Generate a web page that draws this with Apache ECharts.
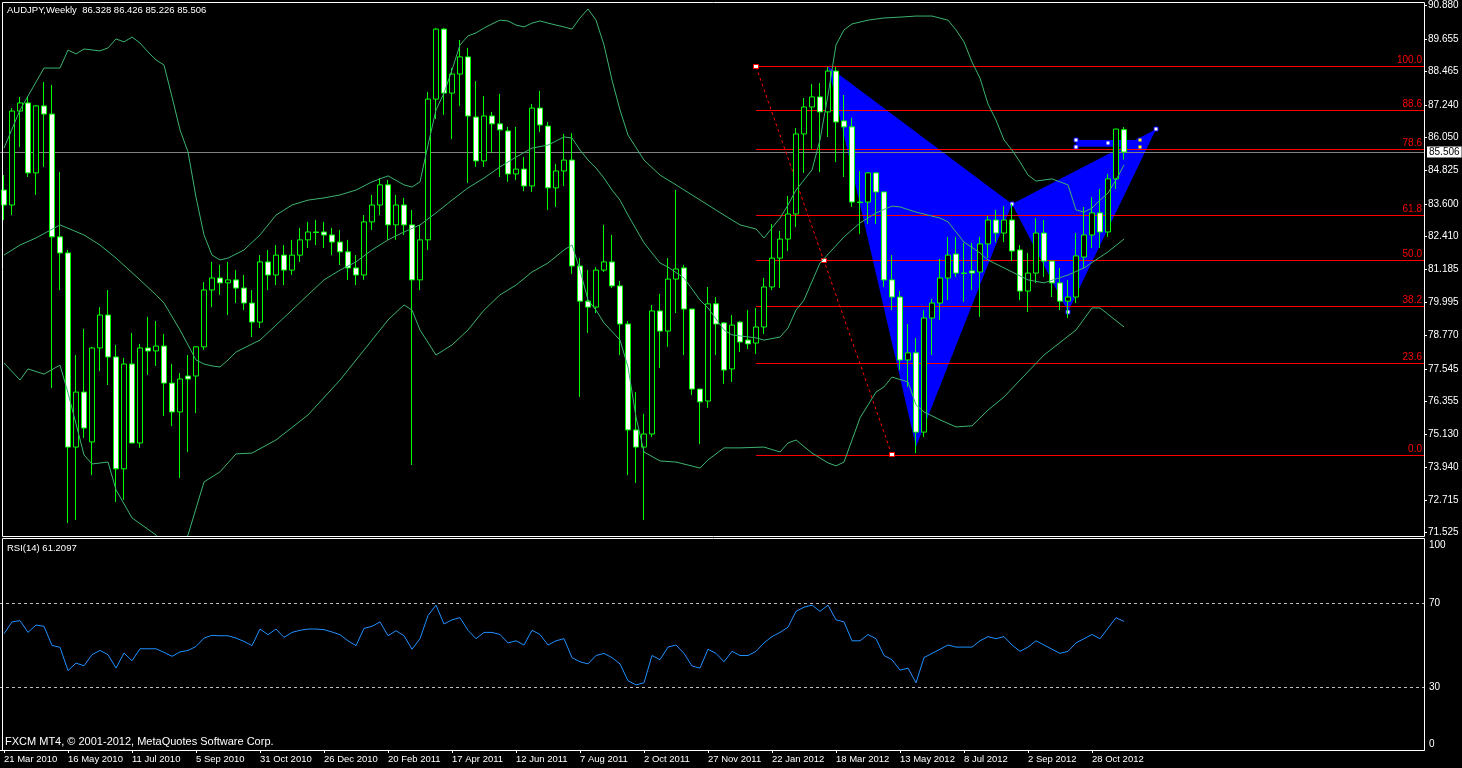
<!DOCTYPE html>
<html><head><meta charset="utf-8">
<script src="https://cdn.jsdelivr.net/npm/echarts@6/dist/echarts.min.js"></script>
<style>html,body{margin:0;padding:0;background:#000;}#c{width:1462px;height:768px;}</style>
</head><body><div id="c"></div>
<script>
// ---- tick labels ----
const xTickLabels = ['21 Mar 2010','16 May 2010','11 Jul 2010','5 Sep 2010','31 Oct 2010','26 Dec 2010','20 Feb 2011','17 Apr 2011','12 Jun 2011','7 Aug 2011','2 Oct 2011','27 Nov 2011','22 Jan 2012','18 Mar 2012','13 May 2012','8 Jul 2012','2 Sep 2012','28 Oct 2012'];
const slotCount = 178; // weekly slots visible on the chart (bars + empty right margin)
const priceTicks = [90.880, 89.655, 88.465, 87.240, 86.050, 84.825, 83.600, 82.410, 81.185, 79.995, 78.770, 77.545, 76.355, 75.130, 73.940, 72.715, 71.525];
const rsiTicks = [0, 30, 70, 100];

// ---- weekly OHLC ----
const open = [
84.11,83.56,87.01,87.31,84.74,87.20,86.90,82.39,81.80,74.67,
76.69,74.86,78.31,79.52,77.98,73.87,77.72,74.82,78.31,78.20,
78.38,77.02,75.96,77.28,77.28,78.35,80.44,80.88,80.70,80.81,
80.51,79.96,79.26,81.47,80.99,81.72,81.17,81.72,82.28,82.57,
82.57,82.46,82.20,81.84,81.25,80.99,82.94,83.56,84.30,82.83,
83.56,82.83,80.81,82.28,87.45,90.02,87.67,88.37,89.00,86.79,
85.18,86.83,86.54,86.28,84.70,84.88,84.26,87.12,86.46,84.19,
84.81,85.21,81.32,80.03,79.81,81.17,81.47,80.59,79.19,75.30,
74.67,75.15,79.67,78.93,80.84,81.25,79.74,76.80,76.36,79.93,
79.23,77.54,79.26,78.60,78.49,79.08,80.55,81.61,82.31,83.23,
86.17,87.16,87.53,86.98,88.48,86.65,86.43,83.67,83.67,84.74,
84.04,80.81,80.18,77.87,78.13,75.22,79.41,79.96,80.88,81.76,
81.06,81.14,81.10,82.13,83.01,82.53,83.01,81.91,80.40,81.06,
82.53,81.50,80.70,80.03,80.18,81.65,82.46,83.27,82.57,84.52,
86.328];
const high = [
84.66,87.12,87.53,87.56,87.23,88.08,87.97,84.77,81.91,78.05,
79.01,78.35,79.81,80.44,78.42,77.94,78.86,78.46,79.45,79.30,
78.82,77.72,77.39,78.05,78.38,80.73,81.47,81.36,81.47,81.17,
80.99,80.44,81.72,81.91,82.09,82.09,82.28,82.72,82.94,83.01,
82.94,82.72,82.64,82.28,81.72,83.19,83.93,84.55,84.48,83.93,
83.82,83.38,82.83,87.71,90.06,90.06,88.59,89.62,89.33,88.11,
87.56,86.98,87.64,86.43,86.43,85.32,87.27,87.75,86.61,85.07,
86.17,86.20,81.61,81.17,81.28,82.83,82.46,80.77,79.30,76.69,
75.89,79.89,80.29,81.61,84.11,81.36,79.74,76.80,80.55,80.18,
79.26,79.52,79.30,79.70,79.78,80.88,82.86,82.61,83.89,86.39,
87.49,88.00,88.04,88.63,88.63,87.60,86.76,84.81,84.77,84.76,
84.04,81.72,80.40,79.19,78.68,79.70,80.11,81.58,82.39,82.39,
82.17,82.17,82.39,83.16,83.38,83.52,83.60,82.09,81.80,83.08,
83.01,81.50,81.25,80.81,82.53,83.49,83.85,84.15,84.70,86.36,
86.426];
const low = [
83.01,83.19,85.69,84.59,83.93,84.96,76.84,80.44,71.88,71.99,
75.00,73.64,77.46,76.95,72.65,72.73,74.82,74.64,77.32,77.65,
75.81,75.44,73.53,74.49,75.92,78.24,79.81,80.26,79.52,79.96,
79.70,78.71,79.04,80.44,80.62,80.62,80.99,81.47,81.98,82.09,
81.98,81.72,81.36,80.81,80.62,80.81,82.64,83.19,82.28,82.28,
82.46,74.01,80.44,81.91,86.72,86.87,85.98,87.20,84.37,84.96,
84.96,85.47,84.59,84.41,84.48,84.07,84.04,86.24,83.38,83.49,
84.26,81.03,76.51,78.86,79.59,81.10,80.51,78.05,73.64,73.35,
71.99,75.04,77.57,78.35,79.59,78.05,76.58,74.78,76.11,78.05,
76.99,77.06,78.16,78.27,78.09,78.82,80.44,80.51,81.87,82.75,
84.74,85.62,84.77,86.06,85.14,84.59,83.49,82.50,82.86,82.86,
80.55,79.70,77.50,76.88,74.45,75.04,78.05,79.34,80.07,80.92,
80.00,80.44,79.45,81.61,82.20,82.20,81.50,80.07,79.63,80.70,
80.92,80.18,79.70,79.41,79.96,81.25,81.98,81.98,82.39,84.15,
85.226];
const close = [
83.56,87.01,87.31,84.74,87.20,86.90,82.39,81.80,74.67,76.69,
75.37,78.31,79.52,77.98,73.87,77.72,74.82,78.31,78.20,78.38,
77.02,75.96,77.17,77.17,78.35,80.44,80.88,80.70,80.81,80.51,
79.96,79.26,81.47,80.99,81.72,81.17,81.72,82.28,82.57,82.55,
82.46,82.20,81.84,81.25,80.99,82.94,83.56,84.30,82.83,83.56,
82.83,80.81,82.28,87.45,90.02,87.67,88.37,89.00,86.83,85.18,
86.83,86.54,86.32,84.70,84.88,84.26,87.12,86.50,84.19,84.81,
85.21,81.32,80.03,79.81,81.17,81.47,80.59,79.19,75.30,74.67,
75.15,79.67,78.93,80.84,81.21,79.74,76.80,76.33,79.93,79.19,
77.50,79.15,78.53,78.46,79.08,80.55,81.61,82.31,83.23,86.17,
87.16,87.53,86.98,88.48,86.61,86.43,83.67,83.65,84.74,84.04,
80.81,80.18,77.87,78.13,75.22,79.41,79.96,80.88,81.72,81.06,
81.05,81.06,82.13,83.01,82.53,83.01,81.87,80.40,81.06,82.53,
81.50,80.70,80.03,80.18,81.69,82.46,83.27,82.57,84.52,86.35,
85.506];

// ---- Bollinger bands (20) as [bar, price] ----
const bbUpper = [[0,85.65],[2,87.05],[5,88.59],[7,88.59],[8,89.25],[9,89.11],[10,89.29],[12,89.22],[13,89.33],[14,89.66],[15,89.55],[16,89.73],[17,89.51],[18,89.18],[19,88.89],[20,88.70],[21,87.53],[22,86.32],[23,85.51],[24,83.85],[25,82.46],[26,81.72],[27,81.54],[28,81.61],[30,81.91],[32,82.46],[34,83.19],[36,83.56],[38,83.74],[40,83.82],[42,83.93],[44,84.11],[46,84.41],[48,84.63],[50,84.30],[51,84.22],[52,84.41],[53,85.76],[54,87.05],[55,87.67],[56,88.52],[57,89.44],[58,89.77],[59,89.88],[60,90.06],[61,90.21],[62,90.35],[63,90.32],[64,90.17],[65,90.10],[66,90.24],[67,90.32],[68,90.24],[69,90.17],[70,90.10],[71,90.02],[72,90.43],[73,90.76],[74,90.35],[75,89.44],[76,88.15],[77,87.05],[78,86.13],[80,85.21],[82,84.66],[84,84.30],[86,83.93],[88,83.56],[90,83.19],[92,82.83],[94,82.68],[95,82.35],[96,82.72],[97,83.08],[98,83.56],[99,84.11],[100,84.48],[101,84.85],[102,85.95],[103,87.60],[104,89.44],[105,89.99],[106,90.21],[108,90.35],[110,90.43],[112,90.46],[114,90.50],[116,90.50],[118,90.35],[119,89.99],[120,89.55],[121,88.81],[122,88.22],[123,87.27],[124,86.68],[125,85.95],[126,85.58],[127,85.14],[128,84.66],[129,84.44],[130,84.48],[131,84.52],[132,84.41],[133,84.30],[134,83.38],[135,83.30],[136,83.45],[137,83.74],[138,84.00],[139,84.48],[140,85.03]];
const bbMiddle = [[0,81.72],[2,82.09],[4,82.35],[7,82.83],[10,82.46],[12,82.09],[14,81.61],[17,80.81],[19,80.26],[20,79.96],[22,78.97],[24,77.87],[25,77.72],[26,77.65],[27,77.61],[28,77.87],[29,78.16],[30,78.31],[32,78.60],[34,79.15],[36,79.70],[38,80.26],[40,80.81],[42,81.17],[44,81.47],[46,81.91],[48,82.28],[50,82.57],[52,82.83],[54,83.27],[56,83.74],[58,84.19],[60,84.55],[62,84.96],[64,85.32],[66,85.65],[68,85.76],[70,86.06],[71,86.02],[72,85.58],[73,85.21],[74,84.92],[75,84.55],[76,84.11],[77,83.74],[78,83.19],[79,82.68],[80,82.17],[82,81.43],[83,81.28],[85,80.88],[87,80.07],[88,79.78],[90,78.97],[91,78.79],[94,78.68],[95,78.60],[97,78.71],[98,79.04],[99,79.70],[100,80.07],[102,81.43],[105,82.39],[107,82.90],[109,83.27],[111,83.52],[112,83.49],[114,83.30],[117,83.08],[118,82.94],[120,82.20],[122,81.80],[123,81.54],[125,81.25],[128,80.81],[130,80.70],[133,80.99],[135,81.25],[138,81.84],[140,82.31]];
const bbLower = [[0,77.76],[2,77.13],[3,77.54],[5,77.35],[7,77.68],[8,76.66],[10,74.38],[11,74.05],[13,74.12],[14,73.10],[16,72.07],[19,71.44],[20,70.89],[22,70.96],[23,71.44],[25,73.39],[27,73.76],[28,74.09],[29,74.42],[31,74.45],[34,74.93],[38,75.85],[42,77.13],[46,78.60],[48,79.34],[50,79.89],[51,79.70],[52,78.97],[54,78.05],[56,78.42],[58,78.97],[60,79.70],[62,80.26],[64,80.62],[66,81.10],[68,81.43],[70,81.91],[71,82.09],[72,81.17],[73,80.07],[74,79.70],[75,79.23],[77,78.60],[78,77.61],[79,75.77],[80,74.49],[82,74.16],[84,74.12],[87,73.90],[88,74.20],[90,74.64],[92,74.64],[95,74.67],[97,74.49],[98,74.82],[99,74.93],[101,74.45],[103,74.09],[104,73.98],[105,74.12],[106,74.93],[107,75.74],[109,76.69],[110,76.88],[111,77.24],[113,77.06],[114,76.22],[115,75.96],[117,75.67],[119,75.41],[121,75.45],[123,76.03],[125,76.51],[127,77.13],[130,78.05],[134,78.97],[136,79.78],[137,79.78],[140,79.08]];

// ---- RSI(14) ----
const rsi = [
55.4,61.0,61.6,56.0,59.5,58.9,49.8,48.9,37.8,41.4,
40.1,45.4,47.4,45.4,39.0,46.2,42.5,48.2,48.2,48.2,
46.5,44.6,46.7,47.4,49.3,53.3,54.6,54.4,54.4,53.3,
51.7,49.7,57.6,54.9,57.6,53.6,56.0,57.0,57.6,57.6,
57.3,56.2,54.9,52.0,49.7,57.9,58.9,61.0,54.4,56.8,
54.4,48,53,64,69,60,62,63,57,53,
56,56,55,51,52,50,57,55,50,52,
53,44,42,41,45,46,44,41,33,31,
32,45,43,49,50,46,40,39,48,46,
42,47,45,45,47,51,54,56,58.5,66,
68,69,66,69,62,61,52,52,55,53,
45,43,38,39,32,44,46,48,50,49,
49,49,52,54,53,54,50,47,49,52,
50,48,46,47,51,53,55,53,58,63,
61.2097];

// ---- drawn objects ----
const fibStart = [94, 88.64];   // bar, price (100.0)
const fibEnd = [111, 74.37];    // bar, price (0.0)
const fibLevels = [100.0, 88.6, 78.6, 61.8, 50.0, 38.2, 23.6, 0.0];
const patternX = [103, 88.66];
const patternA = [114, 74.68];
const patternB = [126, 83.60];
const patternC = [133, 79.64];
const patternD = [144, 86.34];
const boxTopLeft = [134, 85.95];
const boxBottomRight = [142, 85.70];
const lastPrice = 85.506;

const FONT = 'Liberation Sans';
const cats = Array.from({length: slotCount}, (_, i) => String(i));
const candleData = open.map((o, i) => [o, close[i], low[i], high[i]]);
const isTick = (i) => i % 8 === 0 && i / 8 < xTickLabels.length;

function crisp(v) { return Math.round(v - 0.5) + 0.5; }

function renderPattern(params, api) {
  const X = api.coord(patternX), A = api.coord(patternA), B = api.coord(patternB), C = api.coord(patternC), D = api.coord(patternD);
  const b1 = api.coord(boxTopLeft), b2 = api.coord(boxBottomRight);
  const sq = (p, fill, stroke) => ({type: 'rect', shape: {x: Math.round(p[0]) - 2, y: Math.round(p[1]) - 2, width: 4, height: 4}, style: {fill: fill, stroke: stroke, lineWidth: 1}});
  return {type: 'group', children: [
    {type: 'polygon', shape: {points: [X, A, B]}, style: {fill: '#0000ff'}},
    {type: 'polygon', shape: {points: [B, C, D]}, style: {fill: '#0000ff'}},
    {type: 'rect', shape: {x: b1[0], y: b1[1], width: b2[0] - b1[0], height: b2[1] - b1[1]}, style: {fill: '#0000ff'}},
    sq(B, '#fff', '#0000ff'), sq(C, '#fff', '#0000ff'), sq(D, '#fff', '#0000ff'),
    sq(b1, '#fff', '#0000ff'), sq([b1[0], b2[1]], '#fff', '#0000ff'), sq([(b1[0] + b2[0]) / 2, (b1[1] + b2[1]) / 2], '#fff', '#0000ff'),
    sq([b2[0], b1[1]], '#ffff00', '#0000ff'), sq(b2, '#ffff00', '#0000ff')
  ]};
}

function renderObjects(params, api) {
  const cs = params.coordSys;
  const right = cs.x + cs.width;
  const children = [];
  // bid line
  const py = crisp(api.coord([0, lastPrice])[1]);
  children.push({type: 'line', shape: {x1: cs.x, y1: py, x2: right, y2: py}, style: {stroke: '#808080', lineWidth: 1}});
  // fibonacci
  const s = api.coord(fibStart), e = api.coord(fibEnd);
  fibLevels.forEach(lv => {
    const price = fibEnd[1] + (fibStart[1] - fibEnd[1]) * lv / 100;
    const y = crisp(api.coord([fibStart[0], price])[1]);
    children.push({type: 'line', shape: {x1: s[0], y1: y, x2: right, y2: y}, style: {stroke: '#ff0000', lineWidth: 1}});
    children.push({type: 'text', x: right - 2, y: y - 1, style: {text: lv.toFixed(1), fill: '#ff0000', font: '10px ' + FONT, align: 'right', verticalAlign: 'bottom'}});
  });
  children.push({type: 'line', shape: {x1: s[0], y1: s[1], x2: e[0], y2: e[1]}, style: {stroke: '#ff0000', lineWidth: 1, lineDash: [3, 3]}});
  const m = [(s[0] + e[0]) / 2, (s[1] + e[1]) / 2];
  [s, m, e].forEach(p => children.push({type: 'rect', shape: {x: Math.round(p[0]) - 2.5, y: Math.round(p[1]) - 2.5, width: 5, height: 4}, style: {fill: '#fff', stroke: '#ff0000', lineWidth: 1}}));
  return {type: 'group', children: children};
}

function renderPriceTag(params, api) {
  const cs = params.coordSys;
  const y = api.coord([0, lastPrice])[1];
  return {type: 'text', x: cs.x + cs.width + 3, y: Math.round(y), style: {text: lastPrice.toFixed(3), fill: '#000', backgroundColor: '#fff', padding: [1, 2, 0, 2], font: '10px ' + FONT, align: 'left', verticalAlign: 'middle'}};
}

const txt = (size) => ({color: '#fff', fontSize: size, fontWeight: 'normal', fontFamily: FONT});
const chart = echarts.init(document.getElementById('c'));
chart.setOption({
  backgroundColor: '#000',
  animation: false,
  title: [
    {text: 'AUDJPY,Weekly  86.328 86.426 85.226 85.506', left: 7, top: 5, padding: 0, textStyle: txt(9.5)},
    {text: 'RSI(14) 61.2097', left: 7, top: 543, padding: 0, textStyle: txt(9.5)},
    {text: 'FXCM MT4, \u00a9 2001-2012, MetaQuotes Software Corp.', left: 5, top: 736, padding: 0, textStyle: txt(11)}
  ],
  grid: [
    {left: -1, right: 38, top: 2, height: 534},
    {left: -1, right: 38, top: 540, height: 210}
  ],
  xAxis: [
    {type: 'category', gridIndex: 0, data: cats, show: false, boundaryGap: true},
    {type: 'category', gridIndex: 1, data: cats, boundaryGap: true,
     axisLine: {show: true, lineStyle: {color: '#fff', width: 1}},
     axisTick: {show: true, alignWithLabel: true, interval: (i) => isTick(i), length: 3, lineStyle: {color: '#fff'}},
     axisLabel: {show: true, interval: (i) => isTick(i), formatter: (v, i) => xTickLabels[i / 8], color: '#fff', fontSize: 9.5, fontFamily: FONT, align: 'left', margin: 4},
     splitLine: {show: false}}
  ],
  yAxis: [
    {type: 'value', gridIndex: 0, position: 'right', min: 71.404, max: 91.016, scale: true,
     axisLine: {show: false}, splitLine: {show: false},
     axisTick: {show: true, customValues: priceTicks, length: 3, lineStyle: {color: '#fff'}},
     axisLabel: {customValues: priceTicks, formatter: (v) => v.toFixed(3), color: '#fff', fontSize: 10, fontFamily: FONT, margin: 4}},
    {type: 'value', gridIndex: 1, position: 'right', min: 0, max: 100,
     axisLine: {show: false}, splitLine: {show: false}, axisTick: {show: false},
     axisLabel: {customValues: rsiTicks, color: '#fff', fontSize: 10, fontFamily: FONT, margin: 5,
       formatter: (v) => v === 100 ? '{a|100}' : (v === 0 ? '{b|0}' : String(v)),
       rich: {a: {color: '#fff', fontSize: 10, fontFamily: FONT, padding: [11, 0, 0, 0]}, b: {color: '#fff', fontSize: 10, fontFamily: FONT, padding: [0, 0, 11, 0]}}}}
  ],
  graphic: [
    {type: 'rect', silent: true, z: 100, shape: {x: 2.5, y: 2.5, width: 1422, height: 534}, style: {fill: 'none', stroke: '#fff', lineWidth: 1}},
    {type: 'rect', silent: true, z: 100, shape: {x: 2.5, y: 538.5, width: 1422, height: 212}, style: {fill: 'none', stroke: '#fff', lineWidth: 1}}
  ],
  series: [
    {type: 'custom', name: 'pattern', xAxisIndex: 0, yAxisIndex: 0, z: 1, silent: true, renderItem: renderPattern, data: [[0]]},
    {type: 'custom', name: 'objects', xAxisIndex: 0, yAxisIndex: 0, z: 2, silent: true, renderItem: renderObjects, data: [[0]]},
    {type: 'candlestick', name: 'AUDJPY', xAxisIndex: 0, yAxisIndex: 0, z: 3, data: candleData, barWidth: 5,
     itemStyle: {color: '#000', color0: '#fff', borderColor: '#00ff00', borderColor0: '#00ff00', borderWidth: 1}},
    {type: 'line', name: 'BB upper', xAxisIndex: 0, yAxisIndex: 0, z: 4, data: bbUpper, symbol: 'none', lineStyle: {color: '#3cb371', width: 1}, silent: true},
    {type: 'line', name: 'BB middle', xAxisIndex: 0, yAxisIndex: 0, z: 4, data: bbMiddle, symbol: 'none', lineStyle: {color: '#3cb371', width: 1}, silent: true},
    {type: 'line', name: 'BB lower', xAxisIndex: 0, yAxisIndex: 0, z: 4, data: bbLower, symbol: 'none', lineStyle: {color: '#3cb371', width: 1}, silent: true},
    {type: 'custom', name: 'tag', xAxisIndex: 0, yAxisIndex: 0, z: 6, silent: true, renderItem: renderPriceTag, data: [[0]]},
    {type: 'line', name: 'RSI', xAxisIndex: 1, yAxisIndex: 1, data: rsi, symbol: 'none', lineStyle: {color: '#1e90ff', width: 1}, silent: true,
     markLine: {silent: true, symbol: 'none', label: {show: false}, lineStyle: {color: '#c0c0c0', type: [3, 3], width: 1}, data: [{yAxis: 70}, {yAxis: 30}]}}
  ]
});
</script>
</body></html>
